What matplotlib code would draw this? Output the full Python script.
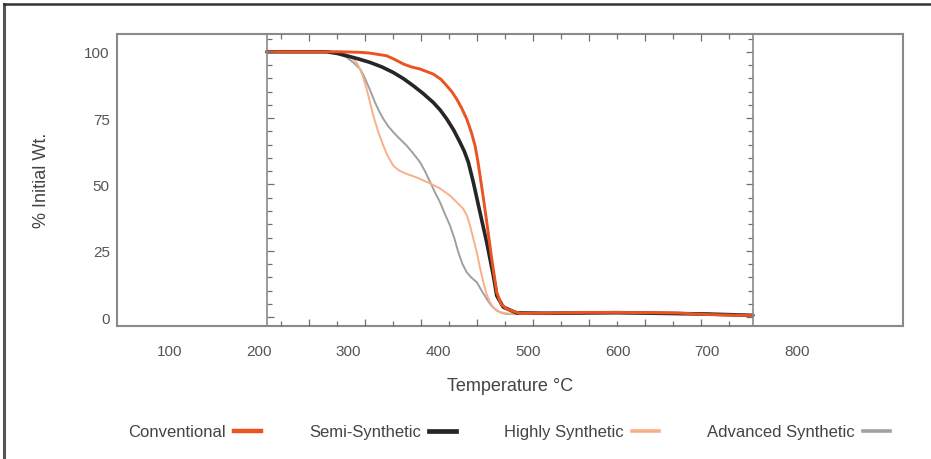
import numpy as np
import matplotlib
matplotlib.use("Agg")
import matplotlib.pyplot as plt
from matplotlib.lines import Line2D
from matplotlib.ticker import MultipleLocator, FixedLocator

plt.rcParams['font.family'] = ['Liberation Sans', 'DejaVu Sans']

# ---- data (temperature degC, % initial weight) ----
conv_T = [208.6, 290, 312.7, 323.8, 342.4, 352, 361, 370, 379.6, 394.4, 403, 409.4, 415, 420.5,
          426, 431.7, 437, 441, 444, 446.5, 450, 454, 459.6, 465.2, 470, 476.3, 491.2,
          520, 560, 600, 640, 666, 700, 751]
conv_W = [100, 100, 99.8, 99.5, 98.5, 97, 95.4, 94.3, 93.5, 91.6, 89.6, 87.2, 85, 82.2,
          78.8, 74.7, 69.5, 64.6, 59, 53.5, 45.5, 36, 22, 9.4, 5, 3.1, 1.4,
          1.5, 1.8, 1.8, 1.7, 1.6, 1.0, 0.6]

semi_T = [208.6, 275.5, 287, 297.8, 310, 323.8, 337, 349.8, 361, 372.1, 383, 394.4, 402, 409.4,
          417, 424.2, 429, 433.5, 439.1, 446.5, 454, 461.4, 465.2, 472.5, 487.5, 520, 600, 700, 751]
semi_W = [100, 100, 99.4, 98.5, 97.4, 96, 94.3, 92.2, 89.9, 87.2, 84.3, 80.9, 78.1, 74.7,
          70.6, 65.9, 62.5, 58.4, 50.8, 39.5, 28.2, 15.7, 8.1, 3.8, 1.6, 1.5, 1.7, 1.2, 0.7]

high_T = [208.6, 286.7, 297, 305.2, 309, 312.7, 316.5, 320.1, 324, 327.5, 333, 338.7, 344, 349.8,
          356, 364.8, 377, 390.8, 402, 413.1, 421, 427.9, 432, 435.4, 439, 442.9, 446.5,
          450.2, 454, 457.7, 462, 468.9, 477, 487.5, 520, 600, 700, 751]
high_W = [100, 100, 99, 97.3, 95.8, 93.5, 90, 85.9, 80.7, 75.9, 69.8, 64.6, 60.4, 57.1,
          55.3, 54, 52.5, 50.4, 48.5, 45.8, 43.2, 40.8, 38.2, 34.5, 29.7, 24.5, 18.6,
          13.2, 8.6, 5.6, 3.4, 1.9, 1.4, 1.2, 1.3, 1.5, 1.0, 0.8]

adv_T = [208.6, 275.5, 288, 297.8, 305, 312.7, 316.5, 320.1, 325, 329.4, 334, 338.7, 344, 349.8,
         357, 364.8, 372, 379.6, 385, 390.8, 396, 401.9, 407, 413.1, 418, 422.3, 427, 431.7,
         437, 442.9, 448, 454, 459, 465.2, 470, 476.3, 500]
adv_W = [100, 100, 99.2, 97.9, 96, 93.5, 91.2, 88.5, 84.6, 80.9, 77.6, 74.7, 72, 69.7,
         67.2, 64.6, 61.7, 58.4, 55.1, 51, 47.2, 43.3, 39.2, 34.5, 29.6, 24.5, 20, 16.9,
         14.9, 13.2, 10.2, 6.9, 4.4, 2.5, 1.7, 1.2, 1.2]

x_ticks = [100, 200, 300, 400, 500, 600, 700, 800]
y_ticks = [0, 25, 50, 75, 100]

series = [
    ("Advanced Synthetic", adv_T, adv_W, "#a0a0a0", 1.4),
    ("Highly Synthetic", high_T, high_W, "#f8b088", 1.4),
    ("Semi-Synthetic", semi_T, semi_W, "#262626", 2.6),
    ("Conventional", conv_T, conv_W, "#ea5420", 2.1),
]
legend_order = ["Conventional", "Semi-Synthetic", "Highly Synthetic", "Advanced Synthetic"]
legend_lw = {"Conventional": 3.2, "Semi-Synthetic": 3.4, "Highly Synthetic": 2.6, "Advanced Synthetic": 2.6}

W, H = 931, 460
fig = plt.figure(figsize=(W / 100, H / 100), dpi=100)

def fx(px):
    return px / W

def fy(py):
    return 1 - py / H

L, R, T, B = 116.7, 902.7, 35, 326.7
ax = fig.add_axes([fx(L), fy(B), fx(R) - fx(L), fy(T) - fy(B)])
ax.set_xlim(41.2, 918.1)
ax.set_ylim(-3.2, 106.7)

handles = {}
for name, xs, ys, col, lw in series:
    ax.plot(xs, ys, color=col, lw=lw, solid_capstyle='round', solid_joinstyle='round', zorder=3)
    handles[name] = Line2D([], [], color=col, lw=legend_lw[name])

ax.set_xticks(x_ticks)
ax.set_yticks(y_ticks)
ax.tick_params(axis='both', length=0, labelsize=11, labelcolor='#555555')
ax.tick_params(axis='x', pad=13)
ax.tick_params(axis='y', pad=5)
for s in ax.spines.values():
    s.set_color('#8a8a8a')
    s.set_linewidth(1.5)
ax.set_xlabel("Temperature °C", fontsize=13, color='#444444', labelpad=14)
ax.set_ylabel("% Initial Wt.", fontsize=13, color='#444444', labelpad=25)

# inner frame with its own ticks
IL, IR = 266.7, 752.7
ax2 = fig.add_axes([fx(IL), fy(B), fx(IR) - fx(IL), fy(T) - fy(B)])
ax2.patch.set_alpha(0)
ax2.set_xlim(-0.5, 16.85)
ax2.set_ylim(-3.2, 106.7)
ax2.xaxis.set_major_locator(FixedLocator(np.arange(1, 17, 2)))
ax2.xaxis.set_minor_locator(FixedLocator(np.arange(0, 17, 2)))
ax2.yaxis.set_major_locator(MultipleLocator(25))
ax2.yaxis.set_minor_locator(MultipleLocator(5))
ax2.tick_params(which='both', direction='in', top=True, bottom=True, left=True, right=True,
                labelbottom=False, labelleft=False, color='#707070', width=0.9)
ax2.tick_params(which='major', length=5)
ax2.tick_params(which='minor', length=3.5)
for side in ['top', 'bottom']:
    ax2.spines[side].set_visible(False)
for side in ['left', 'right']:
    ax2.spines[side].set_color('#8a8a8a')
    ax2.spines[side].set_linewidth(1.2)

fig.legend([handles[n] for n in legend_order], legend_order, loc='center',
           bbox_to_anchor=(fx(509), fy(433)), ncol=4, frameon=False, markerfirst=False,
           handlelength=1.6, handletextpad=0.5, columnspacing=2.9, fontsize=12,
           labelcolor='#444444')

# figure border (left and top)
fig.add_artist(Line2D([fx(4), fx(4)], [0, fy(5)], color='#555555', lw=2.2))
fig.add_artist(Line2D([fx(4), 1], [fy(5), fy(5)], color='#333333', lw=1.8))

fig.savefig("out.png", dpi=100)
